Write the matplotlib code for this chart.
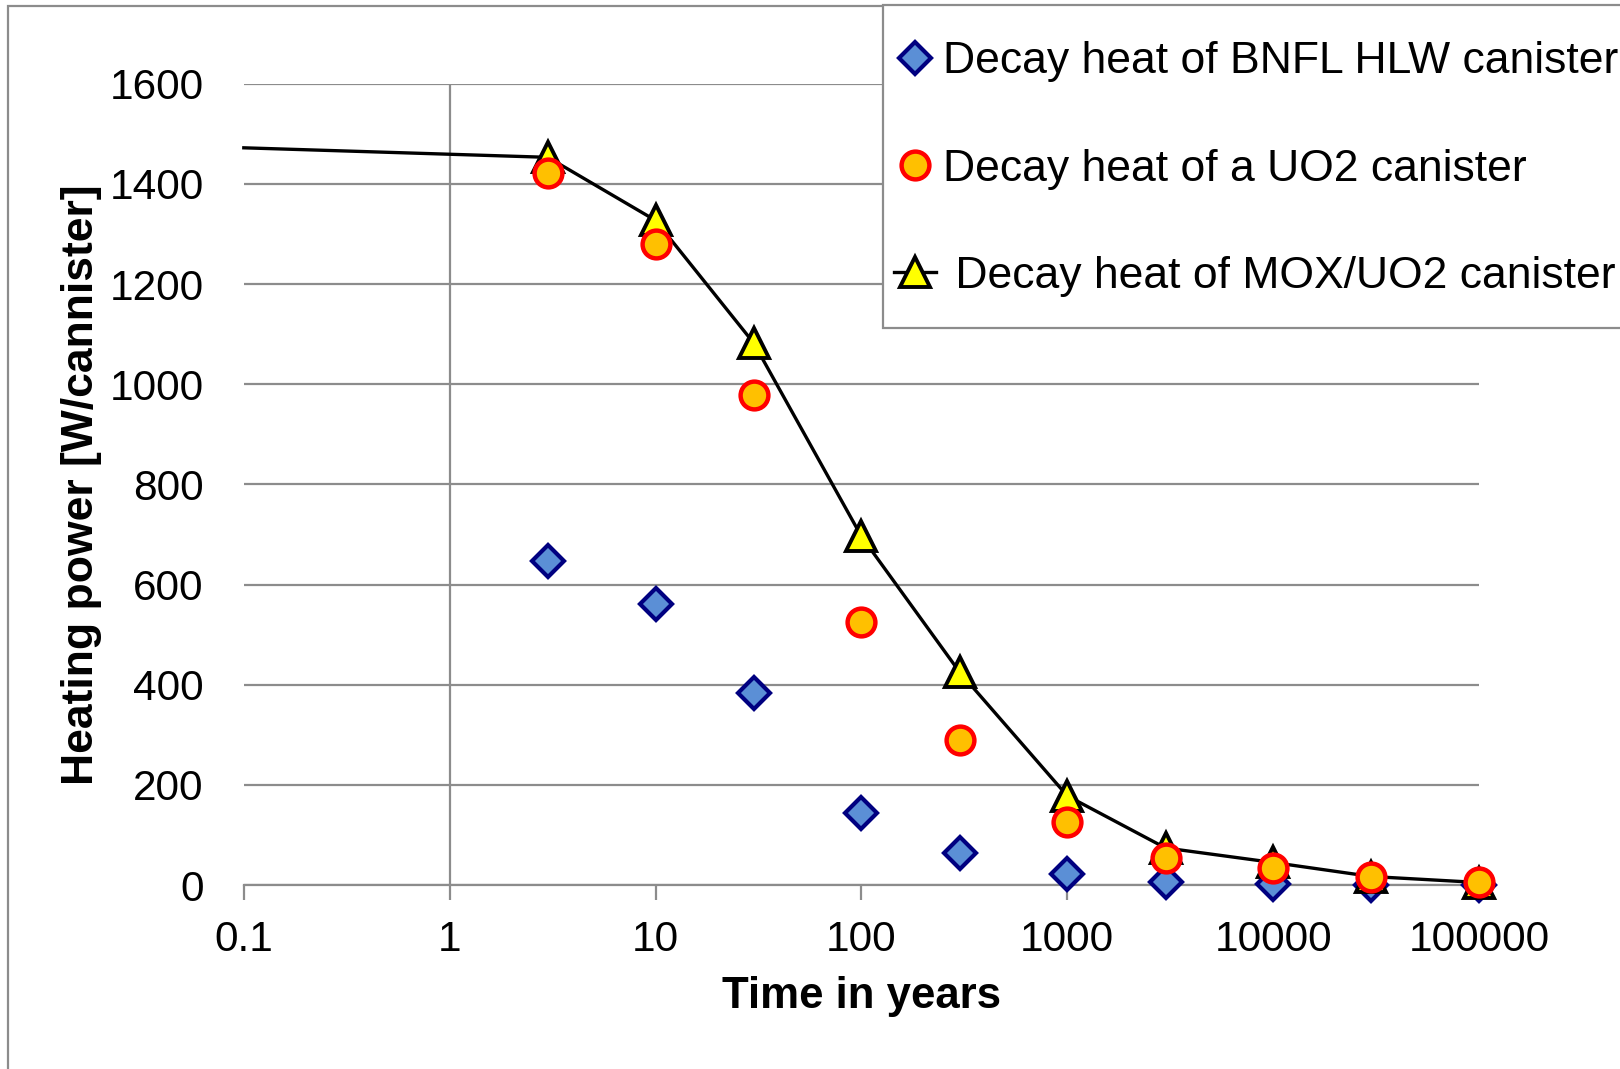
import matplotlib
matplotlib.use('Agg')
import matplotlib.pyplot as plt
from matplotlib.patches import Rectangle
from matplotlib.lines import Line2D

plt.rcParams['font.family'] = ['Liberation Sans', 'DejaVu Sans']

# decay heat per canister, W
years = [3, 10, 30, 100, 300, 1000, 3000, 10000, 30000, 100000]
bnfl_hlw = [646, 562, 384, 143, 64, 23, 6, 2, 0, 0]
uo2 = [1422, 1280, 978, 526, 289, 126, 54, 33, 16, 6]
# MOX/UO2 curve also carries the starting value at 0.1 years
mox_years = [0.1] + years
mox_uo2 = [1472, 1453, 1327, 1082, 696, 425, 178, 74, 45, 17, 5]

labels = ['Decay heat of BNFL HLW canister',
          'Decay heat of a UO2 canister',
          ' Decay heat of MOX/UO2 canister']

fig = plt.figure(figsize=(16.2, 10.69), dpi=100)
ax = fig.add_axes([0.1505, 0.1721, 0.7625, 0.7496])

grid_c = '#8c8c8c'

diamond = dict(marker='D', markersize=16, markerfacecolor='#5b8fd6',
               markeredgecolor='#000080', markeredgewidth=3.0)
circle = dict(marker='o', markersize=20, markerfacecolor='#ffc000',
              markeredgecolor='#ff0000', markeredgewidth=3.2)
triangle = dict(marker='^', markersize=21, markerfacecolor='#ffff00',
                markeredgecolor='black', markeredgewidth=2.8)

ax.plot(years, bnfl_hlw, linestyle='none', zorder=3, clip_on=False, **diamond)
ax.plot(mox_years, mox_uo2, color='black', linewidth=2.4,
        markevery=list(range(1, len(mox_years))), zorder=4, clip_on=False,
        **triangle)
ax.plot(years, uo2, linestyle='none', zorder=5, clip_on=False, **circle)

ax.set_xscale('log')
ax.set_xlim(0.1, 100000)
ax.set_ylim(0, 1600)
ax.set_xticks([0.1, 1, 10, 100, 1000, 10000, 100000])
ax.set_xticklabels(['0.1', '1', '10', '100', '1000', '10000', '100000'])
ax.minorticks_off()
ax.set_yticks(range(0, 1601, 200))

for s in ['top', 'right', 'left']:
    ax.spines[s].set_visible(False)
ax.spines['bottom'].set_color(grid_c)
ax.spines['bottom'].set_linewidth(1.6)
ax.yaxis.grid(True, color=grid_c, linewidth=1.6)
ax.set_axisbelow(True)
# vertical axis line crosses at 1 year
ax.axvline(1, color=grid_c, linewidth=1.6, zorder=1)

ax.tick_params(axis='x', length=11, width=1.6, color=grid_c, labelsize=30.5, pad=14)
ax.tick_params(axis='y', length=0, labelsize=30.5, pad=29)

ax.set_xlabel('Time in years', fontsize=31.5, fontweight='bold', labelpad=12)
ax.set_ylabel('Heating power [W/cannister]', fontsize=32, fontweight='bold')
ax.yaxis.set_label_coords(-0.115, 0.5)

handles = [
    Line2D([], [], linestyle='none', **diamond),
    Line2D([], [], linestyle='none', **circle),
    Line2D([], [], color='black', linewidth=2.4, **triangle),
]
leg = fig.legend(handles, labels, loc='center left',
                 bbox_to_anchor=(894 / 1620, 1 - 169 / 1069), borderaxespad=0,
                 borderpad=0, fontsize=32, frameon=False, handlelength=0.95,
                 handletextpad=0.16, labelspacing=1.49)

# legend frame, running off the right edge
fig.patches.append(Rectangle((883 / 1620, 1 - 328 / 1069), 0.6, 323 / 1069,
                             transform=fig.transFigure, facecolor='white',
                             edgecolor=grid_c, linewidth=1.6, zorder=2))
leg.set_zorder(3)

# outer chart border
fig.patches.append(Rectangle((8 / 1620, -0.05), 1.2, 1.05 - 6 / 1069,
                             transform=fig.transFigure, fill=False,
                             edgecolor=grid_c, linewidth=1.6, zorder=0))

plt.savefig('out.png', dpi=100)
